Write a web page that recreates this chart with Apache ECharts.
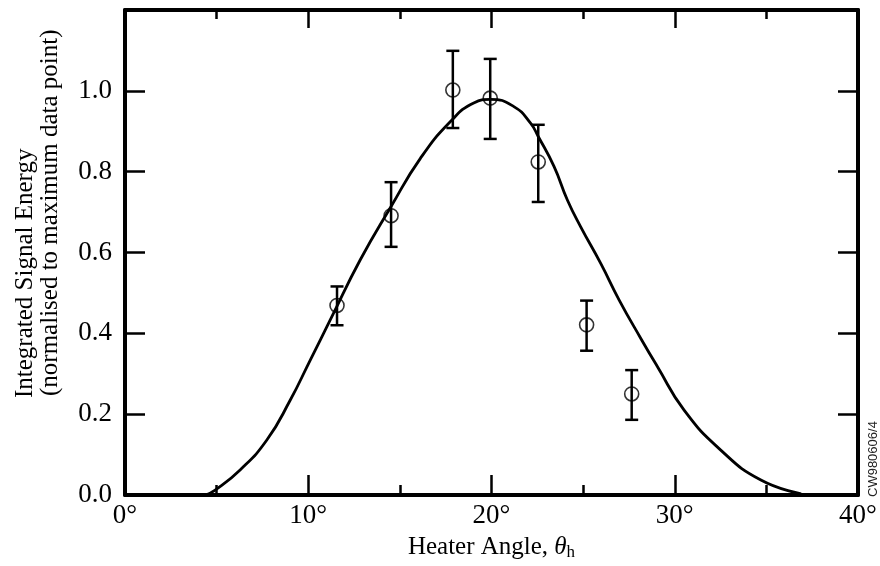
<!DOCTYPE html>
<html>
<head>
<meta charset="utf-8">
<script src="https://cdn.jsdelivr.net/npm/echarts@6/dist/echarts.min.js"></script>
<style>
  html, body { margin: 0; padding: 0; background: #fff; }
  #chart { width: 880px; height: 566px; }
</style>
</head>
<body>
<div id="chart"></div>
<script>
// ---- data ----
var xTickValues = [0, 10, 20, 30, 40];
var xTickLabels = ['0°', '10°', '20°', '30°', '40°'];
var yTickValues = [0, 0.2, 0.4, 0.6, 0.8, 1.0];
var yTickLabels = ['0.0', '0.2', '0.4', '0.6', '0.8', '1.0'];

var pointAngle = [11.57, 14.52, 17.89, 19.93, 22.55, 25.19, 27.65];
var pointValue = [0.469, 0.691, 1.002, 0.982, 0.824, 0.421, 0.250];
var errLow     = [0.420, 0.614, 0.908, 0.881, 0.725, 0.357, 0.186];
var errHigh    = [0.516, 0.774, 1.099, 1.079, 0.916, 0.481, 0.309];

var fitAngle = [4.4, 4.92, 6.28, 7.74, 9.02, 10.11, 11.2, 12.84, 14.52, 16.12, 17.76, 19.03, 19.95,
                21.22, 22.13, 22.55, 23.41, 24.14, 24.86, 25.96, 26.96, 28.14, 29.05, 30.51, 32.51, 34.7, 36.9];
var fitValue = [0.0, 0.012, 0.062, 0.136, 0.235, 0.334, 0.433, 0.582, 0.714, 0.833, 0.924, 0.970, 0.979,
                0.961, 0.920, 0.887, 0.813, 0.730, 0.664, 0.573, 0.483, 0.388, 0.318, 0.210, 0.111, 0.037, 0.003];

var xAxisTitle = 'Heater Angle, ';
var yAxisTitle1 = 'Integrated Signal Energy';
var yAxisTitle2 = '(normalised to maximum data point)';
var sideNote = 'CW980606/4';

// ---- build chart ----
var serif = '"Liberation Serif", "Times New Roman", serif';
var chart = echarts.init(document.getElementById('chart'), null, { renderer: 'canvas' });

function xLabel(v) {
  var i = xTickValues.indexOf(Math.round(v));
  return i >= 0 ? xTickLabels[i] : '';
}
function yLabel(v) {
  for (var i = 0; i < yTickValues.length; i++) {
    if (Math.abs(yTickValues[i] - v) < 1e-6) return yTickLabels[i];
  }
  return '';
}

var fitData = fitAngle.map(function (a, i) { return [a, fitValue[i]]; });
var pointData = pointAngle.map(function (a, i) { return [a, pointValue[i]]; });
var errData = pointAngle.map(function (a, i) { return [a, errLow[i], errHigh[i]]; });

var axisLineStyle = { color: '#000', width: 4 };

var option = {
  backgroundColor: '#fff',
  animation: false,
  grid: { left: 125, right: 22, top: 10, bottom: 71, containLabel: false },
  xAxis: [
    {
      type: 'value', min: 0, max: 40, interval: 10, position: 'bottom',
      axisLine: { show: true, onZero: false, lineStyle: axisLineStyle },
      axisTick: { show: true, inside: true, length: 20, lineStyle: { color: '#000', width: 2.5 } },
      minorTick: { show: true, splitNumber: 2, length: 10, lineStyle: { color: '#000', width: 2.5 } },
      axisLabel: { show: true, margin: 7, color: '#000', fontFamily: serif, fontSize: 27, formatter: xLabel },
      splitLine: { show: false },
      name: '{n|' + xAxisTitle + '}{t|θ}{s|h}',
      nameLocation: 'middle', nameGap: 30,
      nameTextStyle: {
        color: '#000', fontFamily: serif, fontSize: 25, lineHeight: 27,
        rich: {
          n: { fontFamily: serif, fontSize: 25, color: '#000', lineHeight: 27 },
          t: { fontFamily: serif, fontSize: 25, fontStyle: 'italic', color: '#000', lineHeight: 27 },
          s: { fontFamily: serif, fontSize: 17, color: '#000', lineHeight: 27, padding: [10, 0, 0, 0] }
        }
      }
    },
    {
      type: 'value', min: 0, max: 40, interval: 10, position: 'top',
      axisLine: { show: true, onZero: false, lineStyle: axisLineStyle },
      axisTick: { show: true, inside: true, length: 18, lineStyle: { color: '#000', width: 2.5 } },
      minorTick: { show: true, splitNumber: 2, length: 9, lineStyle: { color: '#000', width: 2.5 } },
      axisLabel: { show: false },
      splitLine: { show: false }
    }
  ],
  yAxis: [
    {
      type: 'value', min: 0, max: 1.2, interval: 0.2, position: 'left',
      axisLine: { show: true, onZero: false, lineStyle: axisLineStyle },
      axisTick: { show: true, inside: true, length: 20, lineStyle: { color: '#000', width: 2.5 } },
      axisLabel: { show: true, margin: 13, color: '#000', fontFamily: serif, fontSize: 27, formatter: yLabel },
      splitLine: { show: false }
    },
    {
      type: 'value', min: 0, max: 1.2, interval: 0.2, position: 'right',
      axisLine: { show: true, onZero: false, lineStyle: axisLineStyle },
      axisTick: { show: true, inside: true, length: 20, lineStyle: { color: '#000', width: 2.5 } },
      axisLabel: { show: false },
      splitLine: { show: false }
    }
  ],
  graphic: [
    {
      type: 'text', x: 25, y: 398, rotation: Math.PI / 2,
      style: { text: yAxisTitle1, fontFamily: serif, fontSize: 25, fill: '#000', align: 'left', verticalAlign: 'middle' }
    },
    {
      type: 'text', x: 50, y: 396, rotation: Math.PI / 2,
      style: { text: yAxisTitle2, fontFamily: serif, fontSize: 25, fill: '#000', align: 'left', verticalAlign: 'middle' }
    },
    {
      type: 'text', x: 873, y: 497, rotation: Math.PI / 2,
      style: { text: sideNote, fontFamily: '"Liberation Sans", Arial, sans-serif', fontSize: 13, fill: '#222', align: 'left', verticalAlign: 'middle' }
    }
  ],
  series: [
    {
      type: 'line', name: 'fit', xAxisIndex: 0, yAxisIndex: 0,
      data: fitData, smooth: true, showSymbol: false, symbol: 'none',
      lineStyle: { color: '#000', width: 2.8 }, z: 2
    },
    {
      type: 'custom', name: 'errors', xAxisIndex: 0, yAxisIndex: 0,
      data: errData,
      renderItem: function (params, api) {
        var x = api.value(0);
        var lo = api.coord([x, api.value(1)]);
        var hi = api.coord([x, api.value(2)]);
        var half = 6.5;
        var st = { stroke: '#000', lineWidth: 2.5 };
        return {
          type: 'group',
          children: [
            { type: 'line', shape: { x1: lo[0], y1: lo[1], x2: hi[0], y2: hi[1] }, style: st },
            { type: 'line', shape: { x1: lo[0] - half, y1: lo[1], x2: lo[0] + half, y2: lo[1] }, style: st },
            { type: 'line', shape: { x1: hi[0] - half, y1: hi[1], x2: hi[0] + half, y2: hi[1] }, style: st }
          ]
        };
      },
      z: 3
    },
    {
      type: 'scatter', name: 'data', xAxisIndex: 0, yAxisIndex: 0,
      data: pointData, symbol: 'circle', symbolSize: 14,
      itemStyle: { color: 'rgba(0,0,0,0)', borderColor: '#000', borderWidth: 1.6 },
      z: 4
    }
  ]
};
chart.setOption(option);
</script>
</body>
</html>
